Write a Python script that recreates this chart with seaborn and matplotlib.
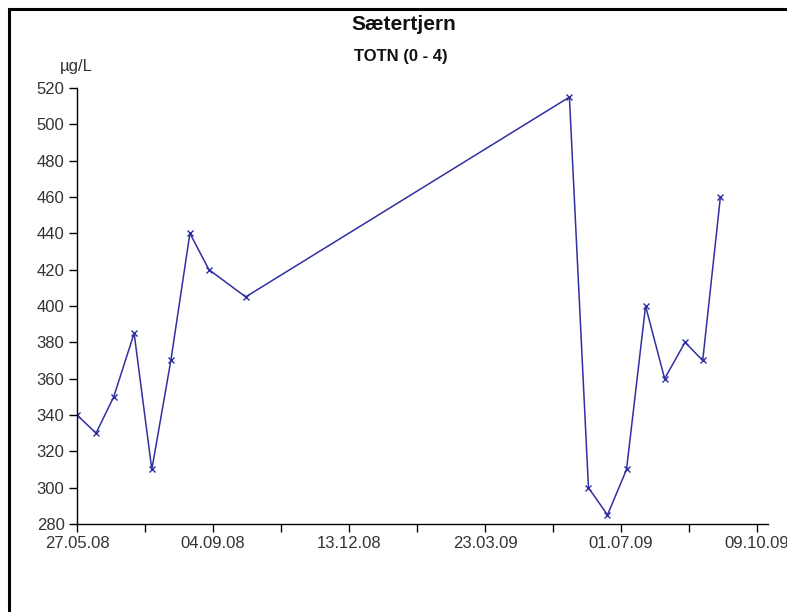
import matplotlib
matplotlib.use("Agg")
import matplotlib.pyplot as plt
import matplotlib.dates as mdates
from matplotlib.patches import Rectangle
import numpy as np
import pandas as pd
import seaborn as sns

# Sample dates and total nitrogen (TOTN, 0-4 m) at Sætertjern
sample_dates = [
    "2008-05-27", "2008-06-10", "2008-06-23", "2008-07-08", "2008-07-21",
    "2008-08-04", "2008-08-18", "2008-09-01", "2008-09-28",
    "2009-05-24", "2009-06-07", "2009-06-21", "2009-07-05", "2009-07-19",
    "2009-08-02", "2009-08-17", "2009-08-30", "2009-09-12",
]
totn_values = [
    340, 330, 350, 385, 310,
    370, 440, 420, 405,
    515, 300, 285, 310, 400,
    360, 380, 370, 460,
]
tick_dates = ["2008-05-27", "2008-09-04", "2008-12-13", "2009-03-23", "2009-07-01", "2009-10-09"]
y_ticks = list(range(280, 521, 20))

df = pd.DataFrame({"date": pd.to_datetime(sample_dates), "totn": totn_values})

sns.set_style("white")
plt.rcParams["font.family"] = ["Liberation Sans", "DejaVu Sans"]

fig = plt.figure(figsize=(7.87, 6.12), dpi=100)
ax = fig.add_axes([77 / 787, 1 - 524 / 612, (768 - 77) / 787, (524 - 88) / 612])

line_color = "#3030a2"
sns.lineplot(data=df, x="date", y="totn", ax=ax, color=line_color, linewidth=1.1,
             marker="x", markersize=5, markeredgewidth=1.0, markeredgecolor=line_color)

start = pd.Timestamp("2008-05-27")
ax.set_xlim(mdates.date2num(start), mdates.date2num(start + pd.Timedelta(days=508)))
ax.set_ylim(280, 520)

# ticks every 50 days, labels on every 100 days
tick_pos = [mdates.date2num(start + pd.Timedelta(days=50 * i)) for i in range(11)]
labelled = {mdates.date2num(pd.Timestamp(d)): pd.Timestamp(d).strftime("%d.%m.%y") for d in tick_dates}
ax.set_xticks(tick_pos)
ax.set_xticklabels([labelled.get(p, "") for p in tick_pos])
ax.set_yticks(y_ticks)

ax.set_xlabel("")
ax.set_ylabel("")
for s in ["top", "right"]:
    ax.spines[s].set_visible(False)
for s in ["left", "bottom"]:
    ax.spines[s].set_color("black")
    ax.spines[s].set_linewidth(1.0)
ax.tick_params(axis="both", direction="out", length=6, width=1.0, color="black",
               labelsize=12, labelcolor="#333333", bottom=True, left=True)
ax.tick_params(axis="y", pad=3)
ax.tick_params(axis="x", pad=3)

fig.text(404 / 787, 1 - 25 / 612, "Sætertjern", ha="center", va="center",
         fontsize=15, fontweight="bold", color="#111111")
fig.text(401 / 787, 1 - 57 / 612, "TOTN (0 - 4)", ha="center", va="center",
         fontsize=12, fontweight="bold", color="#111111")
fig.text(76 / 787, 1 - 66 / 612, "µg/L", ha="center", va="center",
         fontsize=12, color="#333333")

# frame along the top and left edges
fig.add_artist(Rectangle((9 / 787, -0.1), 2.0, 1.1 - 9 / 612, transform=fig.transFigure,
                         fill=False, edgecolor="black", linewidth=2.2))

fig.savefig("out.png", dpi=100, facecolor="white")
